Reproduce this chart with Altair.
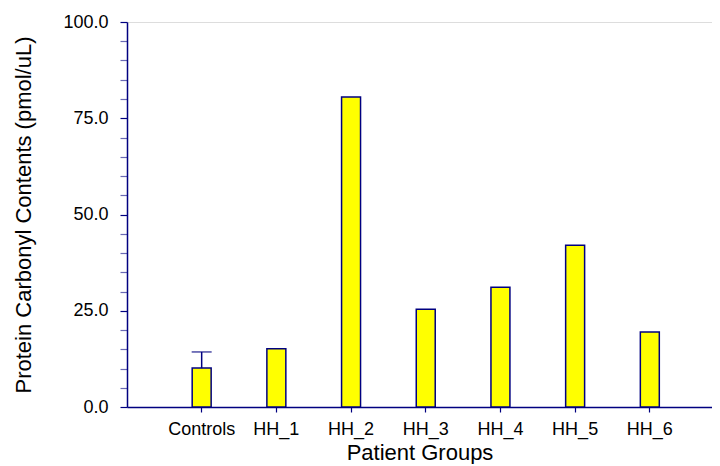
import altair as alt
import pandas as pd

# Data
groups = ["Controls", "HH_1", "HH_2", "HH_3", "HH_4", "HH_5", "HH_6"]
values = [10.1, 15.1, 80.5, 25.4, 31.1, 42.0, 19.5]
errors = [4.2, 0.0, 0.0, 0.0, 0.0, 0.0, 0.0]
y_ticks = list(range(0, 101, 5))

df = pd.DataFrame({"group": groups, "value": values, "err": errors})
df["upper"] = df["value"] + df["err"]
err_df = df[df["err"] > 0]

NAVY = "#000080"
FONT = "Liberation Sans"

x_scale = alt.Scale(domain=groups, paddingInner=0.746, paddingOuter=0.789, align=0.553)
y_scale = alt.Scale(domain=[0, 100], nice=False)

x_axis = alt.Axis(
    title="Patient Groups",
    labelAngle=0,
    labelFontSize=18,
    labelPadding=8,
    labelColor="black",
    tickSize=5,
    tickColor=NAVY,
    tickWidth=1.2,
    domainColor=NAVY,
    domainWidth=1.5,
    titleFontSize=22,
    titleFontWeight="normal",
    titleColor="black",
    titleBaseline="alphabetic",
    titleY=52,
    grid=False,
)

y_axis = alt.Axis(
    title="Protein Carbonyl Contents (pmol/uL)",
    values=y_ticks,
    labelExpr="datum.value % 25 === 0 ? format(datum.value, '.1f') : ''",
    labelOverlap=False,
    labelFontSize=18,
    labelPadding=12,
    labelColor="black",
    tickSize=7,
    tickColor=alt.ConditionalAxisColor(
        condition={"test": "datum.value % 25 === 0", "value": NAVY},
        value="#6a6ab4",
    ),
    tickWidth=1.2,
    domainColor=NAVY,
    domainWidth=1.5,
    titleFontSize=22,
    titleFontWeight="normal",
    titleColor="black",
    titlePadding=27,
    grid=False,
)

bars = alt.Chart(df).mark_bar(
    color="#FFFF00", stroke=NAVY, strokeWidth=1.5
).encode(
    x=alt.X("group:N", scale=x_scale, sort=groups, axis=x_axis),
    y=alt.Y("value:Q", scale=y_scale, axis=y_axis),
)

rule = alt.Chart(err_df).mark_rule(color=NAVY, strokeWidth=1.5).encode(
    x=alt.X("group:N", scale=x_scale, sort=groups, axis=x_axis),
    y=alt.Y("value:Q", scale=y_scale, axis=y_axis),
    y2="upper:Q",
)

cap = alt.Chart(err_df).mark_tick(color=NAVY, thickness=1.5, size=20).encode(
    x=alt.X("group:N", scale=x_scale, sort=groups, axis=x_axis),
    y=alt.Y("upper:Q", scale=y_scale, axis=y_axis),
)

chart = (
    alt.layer(bars, rule, cap)
    .properties(
        width=585,
        height=385,
        autosize=alt.AutoSizeParams(type="none"),
        padding={"left": 119, "top": 14, "right": 0, "bottom": 57},
    )
    .configure_view(stroke=None)
    .configure(font=FONT)
)

chart.save("out.html", embed_options={"renderer": "svg", "actions": False})
